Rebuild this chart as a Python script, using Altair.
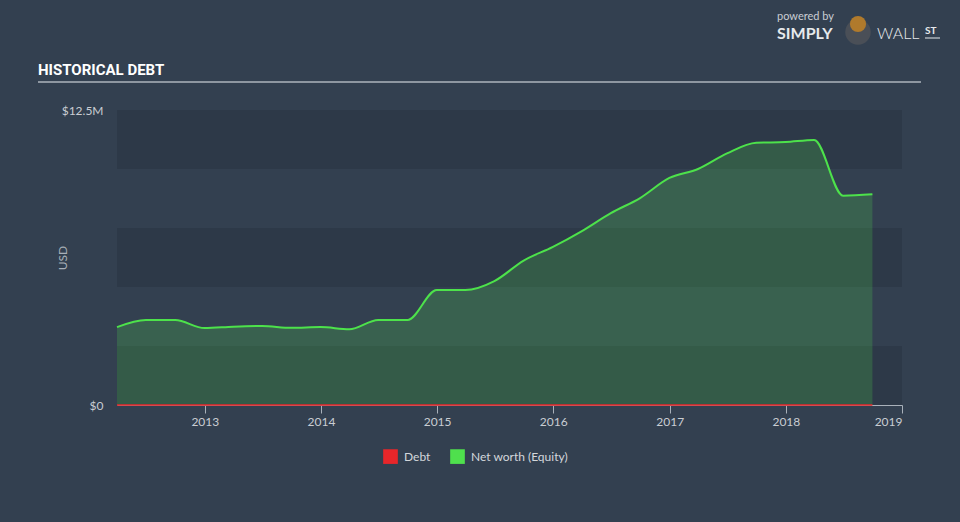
import altair as alt
import pandas as pd

# ---- data ----
dates = ["2012-03-31", "2012-06-30", "2012-09-30", "2012-12-31",
         "2013-03-31", "2013-06-30", "2013-09-30", "2013-12-31",
         "2014-03-31", "2014-06-30", "2014-09-30", "2014-12-31",
         "2015-03-31", "2015-06-30", "2015-09-30", "2015-12-31",
         "2016-03-31", "2016-06-30", "2016-09-30", "2016-12-31",
         "2017-03-31", "2017-06-30", "2017-09-30", "2017-12-31",
         "2018-03-31", "2018-06-30", "2018-09-30"]
net_worth_m = [3.30, 3.60, 3.60, 3.26,
               3.32, 3.35, 3.27, 3.30,
               3.21, 3.60, 3.60, 4.87,
               4.87, 5.25, 6.12, 6.70,
               7.37, 8.13, 8.77, 9.62,
               10.00, 10.66, 11.11, 11.14,
               11.23, 8.87, 8.93]
debt_m = [0.0] * len(dates)

series_names = ["Debt", "Net worth (Equity)"]
series_colors = ["#e8262a", "#4fe04d"]
x_tick_years = ["2013", "2014", "2015", "2016", "2017", "2018", "2019"]
y_ticks = [0, 12.5e6]
band_lo = [0, 5.0e6, 10.0e6]
band_hi = [2.5e6, 7.5e6, 12.5e6]

rows = []
for d, v in zip(dates, debt_m):
    rows.append({"date": d, "value": v * 1e6, "series": "Debt"})
for d, v in zip(dates, net_worth_m):
    rows.append({"date": d, "value": v * 1e6, "series": "Net worth (Equity)"})
df = pd.DataFrame(rows)
bands = pd.DataFrame({"lo": band_lo, "hi": band_hi})

W, H = 785, 295
PAD_L, PAD_T = 117, 110

FONT = "Lato"

x_scale = alt.Scale(domain=["2012-03-31", "2019-01-01"])
y_scale = alt.Scale(domain=[0, 12.5e6], nice=False, zero=True)

x_axis = alt.Axis(values=[f"{y}-01-01" for y in x_tick_years], format="%Y",
                  title=None, grid=False, domainColor="#a9b1ba",
                  tickColor="#a9b1ba", tickSize=8, labelPadding=3,
                  labelColor="#c9cdd3", labelFontSize=12, labelFont=FONT)
y_axis = alt.Axis(values=y_ticks, format="$.3~s", title="USD",
                  grid=False, domain=False, ticks=False, labelPadding=14,
                  labelColor="#c9cdd3", labelFontSize=12, labelFont=FONT,
                  titleColor="#a9b0b8", titleFontSize=12, titleFont=FONT,
                  titleFontWeight="normal", titleX=-48, titleY=H / 2,
                  titleAngle=270, titleAlign="center", titleBaseline="bottom")

band_layer = alt.Chart(bands).mark_rect(color="#2d3948").encode(
    x=alt.value(0), x2=alt.value(W),
    y=alt.Y("lo:Q", scale=y_scale, axis=y_axis), y2="hi:Q")

area_layer = alt.Chart(df).mark_area(interpolate="monotone", opacity=0.21).encode(
    x=alt.X("date:T", scale=x_scale, axis=x_axis),
    y=alt.Y("value:Q", scale=y_scale, axis=y_axis),
    color=alt.Color("series:N",
                    scale=alt.Scale(domain=series_names, range=series_colors),
                    legend=alt.Legend(title=None, orient="none", direction="horizontal",
                                      legendX=266, legendY=339, symbolType="square",
                                      symbolSize=215, symbolOpacity=1, symbolStrokeWidth=0,
                                      labelColor="#d3d7dc", labelFontSize=12, labelFont=FONT,
                                      labelOffset=6, columnPadding=19)))

nw_line = alt.Chart(df).transform_filter(alt.datum.series == "Net worth (Equity)").mark_line(
    interpolate="monotone", color="#4de24b", strokeWidth=2).encode(x="date:T", y="value:Q")

debt_line = alt.Chart(df).transform_filter(alt.datum.series == "Debt").mark_line(
    color="#e8262a", strokeWidth=1.5).encode(x="date:T", y="value:Q")

# ---- decorations: title, underline, branding ----
title_txt = alt.Chart(pd.DataFrame({"t": ["HISTORICAL DEBT"]})).mark_text(
    align="left", baseline="alphabetic", fontSize=15, fontWeight="bold",
    font="Roboto", color="#ffffff").encode(
    x=alt.value(38 - PAD_L), y=alt.value(75 - PAD_T), text="t:N")

underline = alt.Chart(pd.DataFrame({"a": [0]})).mark_rule(color="#aeb5bd", strokeWidth=1.5).encode(
    x=alt.value(38 - PAD_L), x2=alt.value(921 - PAD_L), y=alt.value(82 - PAD_T))

powered = alt.Chart(pd.DataFrame({"t": ["powered by"]})).mark_text(
    align="left", baseline="alphabetic", fontSize=11, font=FONT, color="#c9cdd3").encode(
    x=alt.value(777 - PAD_L), y=alt.value(20 - PAD_T), text="t:N")
simply = alt.Chart(pd.DataFrame({"t": ["SIMPLY"]})).mark_text(
    align="left", baseline="alphabetic", fontSize=16, fontWeight="bold", font=FONT,
    color="#e6e9ec").encode(x=alt.value(777 - PAD_L), y=alt.value(39 - PAD_T), text="t:N")
logo = alt.Chart(pd.DataFrame({"a": [0]})).mark_point(
    filled=True, shape="circle", size=650, color="#4a4f57", opacity=1).encode(
    x=alt.value(858 - PAD_L), y=alt.value(32 - PAD_T))
logo_face = alt.Chart(pd.DataFrame({"a": [0]})).mark_point(
    filled=True, shape="circle", size=260, color="#b07a2c", opacity=1).encode(
    x=alt.value(858 - PAD_L), y=alt.value(24 - PAD_T))
wall = alt.Chart(pd.DataFrame({"t": ["WALL"]})).mark_text(
    align="left", baseline="alphabetic", fontSize=16, fontWeight=300, font=FONT,
    color="#e6e9ec").encode(x=alt.value(877 - PAD_L), y=alt.value(39 - PAD_T), text="t:N")
st = alt.Chart(pd.DataFrame({"t": ["ST"]})).mark_text(
    align="left", baseline="alphabetic", fontSize=10, fontWeight="bold", font=FONT,
    color="#e6e9ec").encode(x=alt.value(925 - PAD_L), y=alt.value(34 - PAD_T), text="t:N")
st_line = alt.Chart(pd.DataFrame({"a": [0]})).mark_rule(color="#e6e9ec", strokeWidth=1).encode(
    x=alt.value(925 - PAD_L), x2=alt.value(940 - PAD_L), y=alt.value(38 - PAD_T))

chart = alt.layer(
    band_layer, area_layer, nw_line, debt_line,
    title_txt, underline, powered, simply, logo, logo_face, wall, st, st_line
).properties(
    width=W, height=H,
    autosize=alt.AutoSizeParams(type="none"),
    padding={"left": PAD_L, "top": PAD_T, "right": 960 - PAD_L - W, "bottom": 522 - PAD_T - H},
    background="#334050",
).configure_view(stroke=None)

chart.save("out.html", embed_options={"renderer": "svg", "actions": False})
